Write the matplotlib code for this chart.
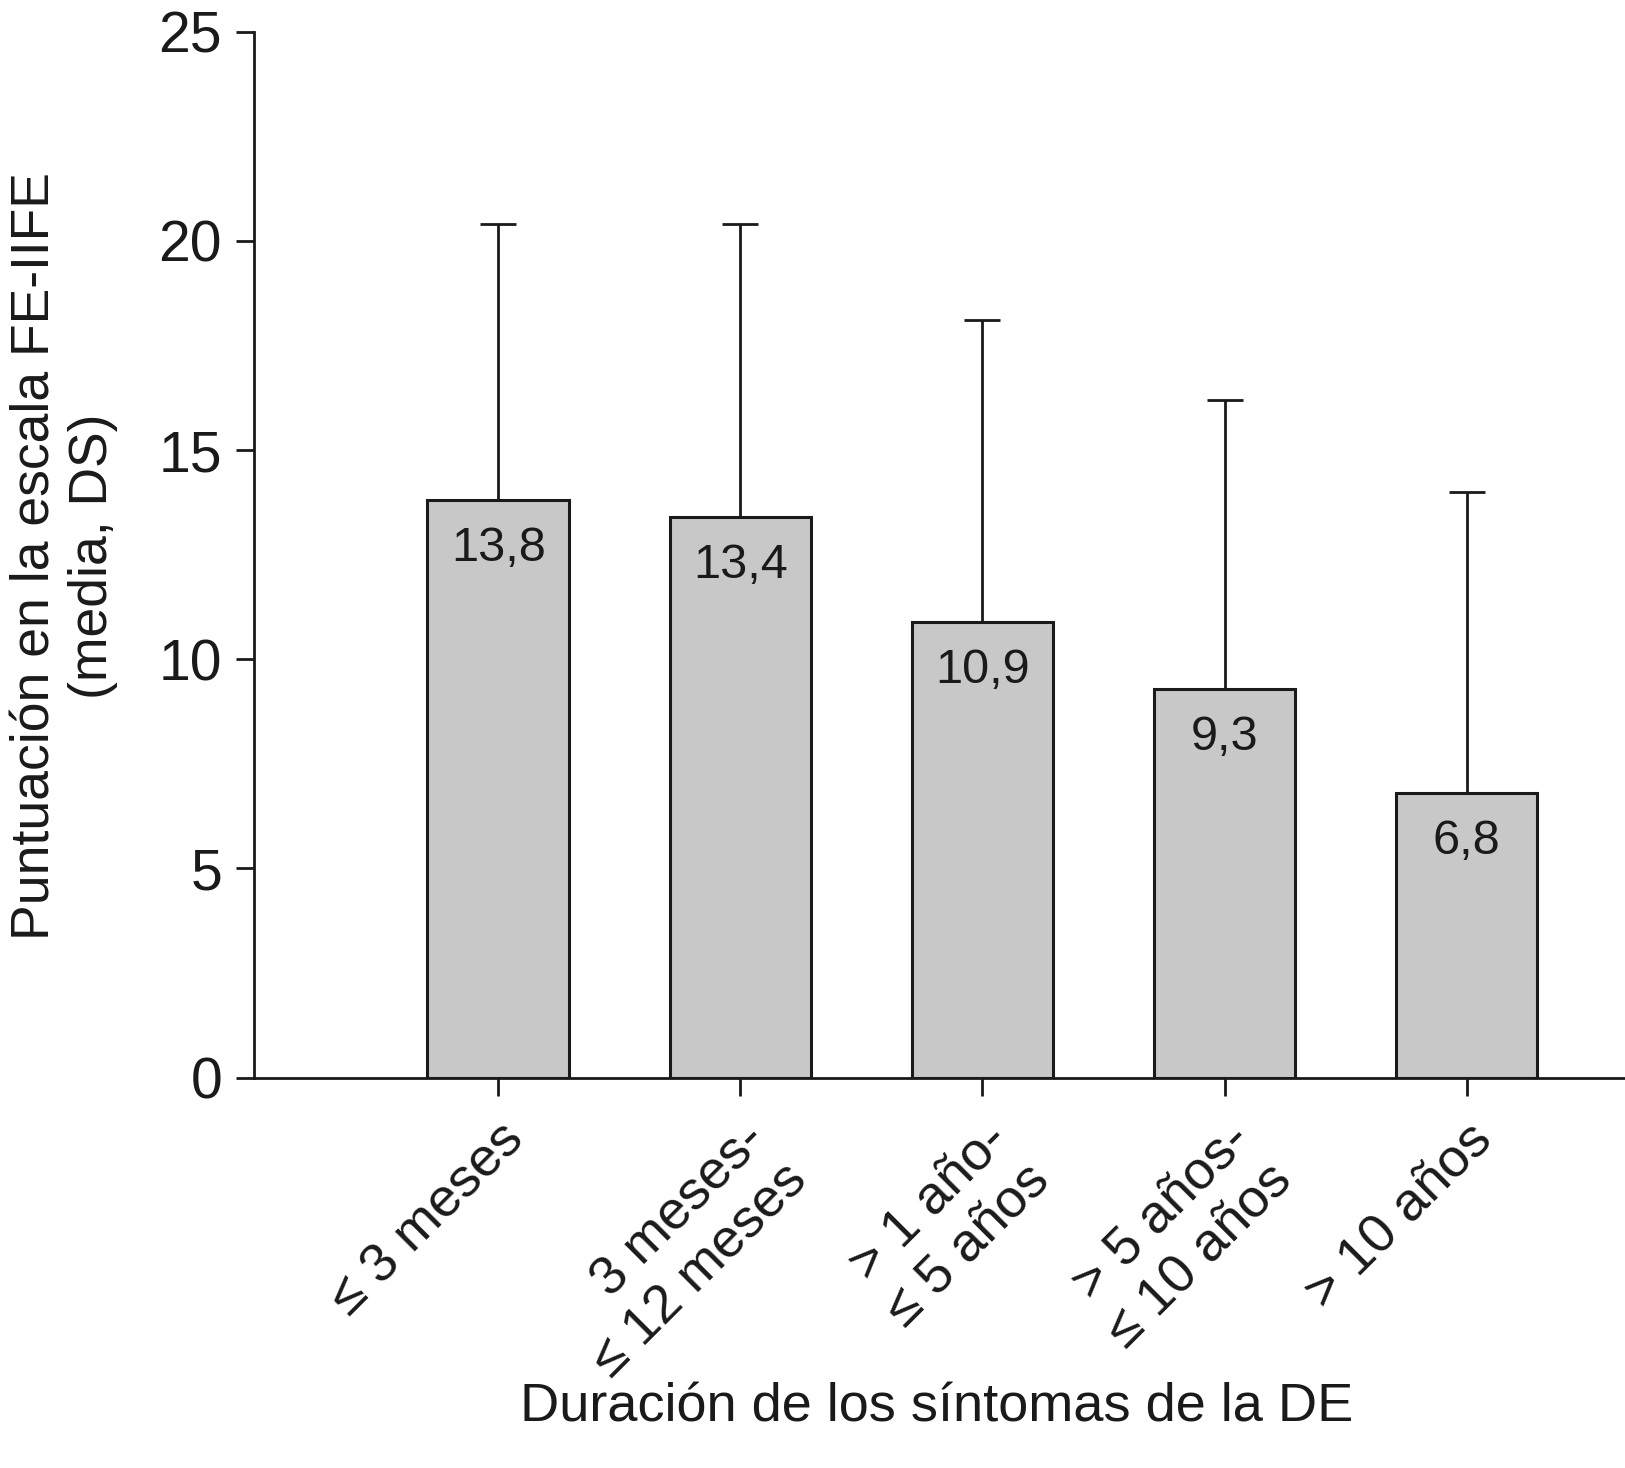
import matplotlib
matplotlib.use('Agg')
import matplotlib.pyplot as plt
import numpy as np

plt.rcParams['font.family'] = ['Liberation Sans', 'DejaVu Sans']

# datos
categorias = ['≤ 3 meses', '3 meses-\n≤ 12 meses', '> 1 año-\n≤ 5 años',
              '> 5 años-\n≤ 10 años', '> 10 años']
medias = [13.8, 13.4, 10.9, 9.3, 6.8]
ds = [6.6, 7.0, 7.2, 6.9, 7.2]
etiquetas = ['13,8', '13,4', '10,9', '9,3', '6,8']

fig = plt.figure(figsize=(16.25, 14.68), dpi=100)
ax = fig.add_axes([0.1563, 0.2659, 0.8437, 0.7125])

x = np.arange(len(categorias))
ax.errorbar(x, medias, yerr=[np.zeros(len(ds)), ds], fmt='none', ecolor='#1a1a1a',
            elinewidth=2.0, capsize=13.3, capthick=2.0, zorder=1)
ax.bar(x, medias, width=0.585, color='#c8c8c8', edgecolor='#1a1a1a', linewidth=2.2, zorder=2)

for xi, m, t in zip(x, medias, etiquetas):
    ax.text(xi, m - 0.62, t, ha='center', va='top', fontsize=35, color='#1a1a1a', zorder=3)

ax.set_xlim(-1.009, 4.654)
ax.set_ylim(0, 25)
ax.set_yticks([0, 5, 10, 15, 20, 25])
ax.set_xticks(x)
ax.set_xticklabels(categorias)

for s in ['top', 'right']:
    ax.spines[s].set_visible(False)
for s in ['left', 'bottom']:
    ax.spines[s].set_linewidth(2.0)
    ax.spines[s].set_color('#1a1a1a')

ax.tick_params(axis='y', length=13, width=2.0, pad=10, labelsize=41, colors='#1a1a1a')
ax.tick_params(axis='x', length=13, width=2.0, pad=13, labelsize=39, colors='#1a1a1a')
plt.setp(ax.get_xticklabels(), rotation=45, ha='right', va='top', rotation_mode='anchor')

fig.text(0.0395, 0.621, 'Puntuación en la escala FE-IIFE\n(media, DS)', rotation=90,
         ha='center', va='center', multialignment='center', fontsize=38.5, color='#1a1a1a')
fig.text(0.5765, 0.041, 'Duración de los síntomas de la DE', ha='center', va='center',
         fontsize=39, color='#1a1a1a')

fig.savefig('out.png', dpi=100)
